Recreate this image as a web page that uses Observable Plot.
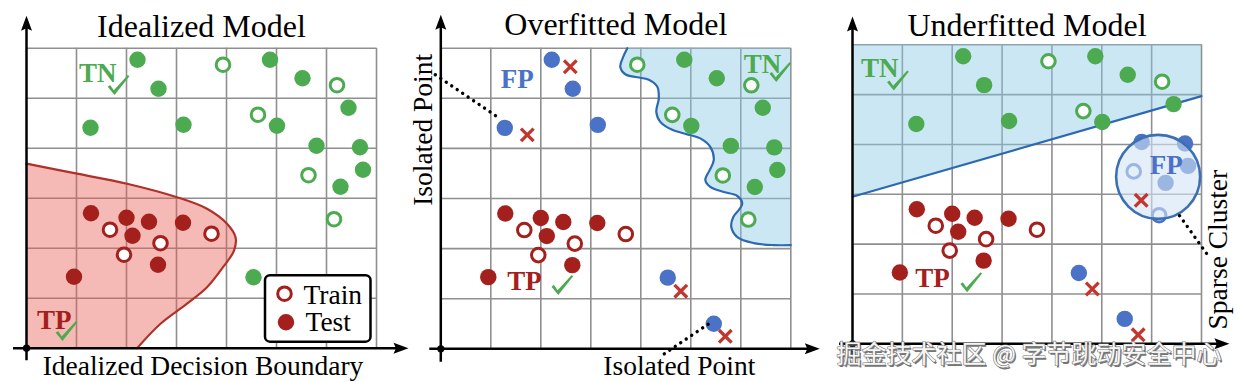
<!DOCTYPE html>
<html><head><meta charset="utf-8">
<script src="https://cdn.jsdelivr.net/npm/d3@7"></script>
<script src="https://cdn.jsdelivr.net/npm/@observablehq/plot@0.6"></script>
<style>
html,body{margin:0;padding:0;background:#fff;}
#chart{position:relative;width:1238px;height:382px;overflow:hidden;background:#fff;}
#chart svg{position:absolute;top:0;overflow:visible;}
</style></head><body><div id="chart"></div>
<script>
// ---------- data (grid units: 7 columns x 6 rows per panel) ----------
const ptX = [2.22,2.64,4.87,5.52,6.44,1.28,3.14,5.01,5.80,6.67,6.73,6.28,4.54,3.93,6.21,4.63,5.64,6.15,5.46,
             1.29,2.00,2.45,3.13,2.12,2.63,0.95,1.67,2.68,1.95,3.70];
const ptY = [5.77,5.19,5.77,5.40,4.81,4.41,4.47,4.45,4.05,4.02,3.57,3.23,1.42,5.67,5.26,4.67,3.46,2.58,0.50,
             2.70,2.61,2.53,2.51,2.25,1.67,1.43,2.37,2.10,1.87,2.29];
const ptSet = ["test","test","test","test","test","test","test","test","test","test","test","test","test",
               "train","train","train","train","train","test",
               "test","test","test","test","test","test","test","train","train","train","train"];
const classIdeal = ["TN","TN","TN","TN","TN","TN","TN","TN","TN","TN","TN","TN","TN","TN","TN","TN","TN","TN","none",
                    "TP","TP","TP","TP","TP","TP","TP","TP","TP","TP","TP"];
const classOver  = ["FP","FP","TN","TN","TN","FP","FP","TN","TN","TN","TN","TN","FP","TN","TN","TN","TN","TN","FP",
                    "TP","TP","TP","TP","TP","TP","TP","TP","TP","TP","TP"];
const classUnder = ["TN","TN","TN","TN","TN","TN","TN","TN","FP","FP","FP","FP","FP","TN","TN","TN","FP","FP","FP",
                    "TP","TP","TP","TP","TP","TP","TP","TP","TP","TP","TP"];

// misclassification crosses
const errPanel = ["over","over","over","over","under","under","under"];
const errX = [2.59,1.73,4.80,5.69,4.81,5.73,5.79];
const errY = [5.63,4.27,1.15,0.25,1.10,0.18,2.88];

// decision boundaries
const idealBX = [0,1.01,2.01,3.01,3.61,4.01,4.18,4.15,3.93,3.61,3.21,2.68,2.21];
const idealBY = [3.69,3.49,3.29,3.02,2.79,2.49,2.22,1.95,1.62,1.22,0.89,0.49,0.0];
const overBX = [3.73,3.65,3.59,3.69,3.93,4.16,4.33,4.36,4.31,4.39,4.63,4.93,5.19,5.39,5.46,5.38,5.29,5.39,5.66,5.93,6.03,5.96,5.85,5.81,5.93,6.26,6.66,7.0];
const overBY = [6.0,5.83,5.63,5.48,5.42,5.37,5.23,5.0,4.73,4.53,4.37,4.28,4.2,4.03,3.77,3.57,3.37,3.23,3.13,3.05,2.9,2.77,2.63,2.43,2.23,2.11,2.07,2.07];
const underBX = [0,7];
const underBY = [2.95,4.97];

// class tags
const tagPanel = ["ideal","ideal","over","over","over","under","under","under"];
const tagText  = ["TN","TP","FP","TN","TP","TN","TP","FP"];
const tagX = [1.05,0.21,1.20,6.06,1.33,0.17,1.26,5.96];
const tagY = [5.32,0.39,5.20,5.50,1.18,5.35,1.13,3.40];
// check marks
const checkPanel = ["ideal","ideal","over","over","under","under"];
const checkX = [1.84,0.80,6.79,2.43,0.91,2.38];
const checkY = [5.26,0.34,5.52,1.27,5.28,1.23];

// titles and captions
const titleText = ["Idealized Model","Overfitted Model","Underfitted Model"];
const titleY = [6.23,6.27,6.18];
const capPanel = ["ideal","over","over","under"];
const capText = ["Idealized Decision Boundary","Isolated Point","Isolated Point","Sparse Cluster"];
const capX = [3.53,4.77,-0.17,7.52];
const capY = [-0.53,-0.53,4.37,1.89];
const capRotate = [0,0,-90,-90];

// dotted leaders
const leadPanel = ["over","over","under"];
const leadX1 = [-0.11,4.47,6.56], leadY1 = [5.47,-0.10,2.57];
const leadX2 = [1.13,5.36,7.16], leadY2 = [4.63,0.50,1.73];

// sparse cluster circle
const clusterX = [6.13], clusterY = [3.35];

// legend
const legendText = ["Train","Test"];
const legendBoxX = [4.78,6.89], legendBoxY = [0.12,1.45];
const legendMarkX = [5.16,5.19], legendMarkY = [1.09,0.52];
const legendTextX = [5.54,5.58], legendTextY = [0.89,0.35];

const watermark = "掘金技术社区 @ 字节跳动安全中心";

// ---------- styles ----------
const GREEN = "#4caa50", RED = "#a3201d", BLUE = "#4a72c6", XRED = "#c3362d";
const classColor = {TN: GREEN, TP: RED, FP: BLUE};
const SERIF = "Liberation Serif, Times New Roman, serif";

const arrowHead = {draw(ctx) { ctx.moveTo(0,0); ctx.lineTo(-5.5,15); ctx.lineTo(0,12.5); ctx.lineTo(5.5,15); ctx.closePath(); }};
const checkShape = {draw(ctx) {
  ctx.moveTo(-10.8, 1.6); ctx.lineTo(-8.4, -0.3); ctx.lineTo(-4.7, 5.0);
  ctx.lineTo(9.4, -10.2); ctx.lineTo(10.9, -8.9); ctx.lineTo(-4.0, 9.8); ctx.closePath();
}};

const panels = [
  {key:"ideal", left:0,   width:413, ml:26,   mr:37,   mt:47.7, mb:34.3, classes:classIdeal, t:0, ax:[-0.26,7.64], ay:[-0.25,6.65]},
  {key:"over",  left:413, width:413, ml:27.3, mr:35.7, mt:47.7, mb:33.7, classes:classOver,  t:1, ax:[-0.22,7.58], ay:[-0.27,6.67]},
  {key:"under", left:826, width:412, ml:26,   mr:37,   mt:44.3, mb:38.7, classes:classUnder, t:2, ax:[-0.26,7.56], ay:[-0.30,6.57]}
];

function panelPlot(p) {
  const cls = p.classes;
  const shown = d3.range(ptX.length).filter(i => cls[i] !== "none");
  const sel = (panelArr) => d3.range(panelArr.length).filter(i => panelArr[i] === p.key);
  const marks = [];
  // grid
  marks.push(Plot.ruleX(d3.range(1, 8), {y1: 0, y2: 6, stroke: "#8f8f8f", strokeWidth: 1.6}));
  marks.push(Plot.ruleY(d3.range(1, 7), {x1: 0, x2: 7, stroke: "#8f8f8f", strokeWidth: 1.6}));
  // regions
  if (p.key === "ideal") {
    const I = d3.range(idealBX.length);
    marks.push(Plot.areaX(I, {x1: 0, x2: i => idealBX[i], y: i => idealBY[i], curve: "catmull-rom", fill: "#ea5a50", fillOpacity: 0.42}));
    marks.push(Plot.line(I, {x: i => idealBX[i], y: i => idealBY[i], curve: "catmull-rom", stroke: "#b0302a", strokeWidth: 2.2}));
  } else if (p.key === "over") {
    const I = d3.range(overBX.length);
    marks.push(Plot.areaX(I, {x1: i => overBX[i], x2: 7, y: i => overBY[i], curve: "catmull-rom", fill: "#8ecae6", fillOpacity: 0.45}));
    marks.push(Plot.line(I, {x: i => overBX[i], y: i => overBY[i], curve: "catmull-rom", stroke: "#2b69b0", strokeWidth: 2.2}));
  } else {
    const I = d3.range(underBX.length);
    marks.push(Plot.areaY(I, {x: i => underBX[i], y1: i => underBY[i], y2: 6, fill: "#8ecae6", fillOpacity: 0.45}));
    marks.push(Plot.line(I, {x: i => underBX[i], y: i => underBY[i], stroke: "#2b69b0", strokeWidth: 2.2}));
  }
  // axes
  marks.push(Plot.ruleY([0], {x1: p.ax[0], x2: p.ax[1] - 0.22, stroke: "black", strokeWidth: 2.5}));
  marks.push(Plot.ruleX([0], {y1: p.ay[0], y2: p.ay[1] - 0.22, stroke: "black", strokeWidth: 2.5}));
  marks.push(Plot.dot([0], {x: p.ax[1], y: 0, symbol: arrowHead, rotate: 90, fill: "black", stroke: null}));
  marks.push(Plot.dot([0], {x: 0, y: p.ay[1], symbol: arrowHead, rotate: 0, fill: "black", stroke: null}));
  marks.push(Plot.dot([0], {x: 0, y: 0, r: 3.6, fill: "black"}));
  // points
  marks.push(Plot.dot(shown.filter(i => ptSet[i] === "test"), {x: i => ptX[i], y: i => ptY[i], r: 8.2, fill: i => classColor[cls[i]]}));
  marks.push(Plot.dot(shown.filter(i => ptSet[i] === "train"), {x: i => ptX[i], y: i => ptY[i], r: 6.8, fill: "white", stroke: i => classColor[cls[i]], strokeWidth: 3}));
  // cluster circle
  if (p.key === "under") {
    marks.push(Plot.dot([0], {x: i => clusterX[i], y: i => clusterY[i], r: 42, fill: "#d3e4f5", fillOpacity: 0.6, stroke: "#3d6fb3", strokeWidth: 2.6}));
  }
  // errors
  marks.push(Plot.dot(sel(errPanel), {x: i => errX[i], y: i => errY[i], symbol: "times", r: 5.8, stroke: XRED, strokeWidth: 3.3}));
  // tags
  marks.push(Plot.text(sel(tagPanel), {x: i => tagX[i], y: i => tagY[i], text: i => tagText[i], fill: i => classColor[tagText[i]],
    fontFamily: SERIF, fontWeight: "bold", fontSize: 27, textAnchor: "start", lineAnchor: "bottom"}));
  marks.push(Plot.dot(sel(checkPanel), {x: i => checkX[i], y: i => checkY[i], symbol: checkShape, fill: GREEN, stroke: null}));
  // title
  marks.push(Plot.text([p.t], {x: 3.5, y: i => titleY[i], text: i => titleText[i], fontFamily: SERIF, fontSize: 32,
    fill: "black", textAnchor: "middle", lineAnchor: "bottom"}));
  // captions
  const caps = sel(capPanel);
  marks.push(Plot.text(caps.filter(i => capRotate[i] === 0), {x: i => capX[i], y: i => capY[i], text: i => capText[i],
    fontFamily: SERIF, fontSize: 27.5, fill: "black", textAnchor: "middle", lineAnchor: "bottom"}));
  marks.push(Plot.text(caps.filter(i => capRotate[i] !== 0), {x: i => capX[i], y: i => capY[i], text: i => capText[i], rotate: -90,
    fontFamily: SERIF, fontSize: 27.5, fill: "black", textAnchor: "middle", lineAnchor: "bottom"}));
  // leaders
  marks.push(Plot.link(sel(leadPanel), {x1: i => leadX1[i], y1: i => leadY1[i], x2: i => leadX2[i], y2: i => leadY2[i],
    stroke: "black", strokeWidth: 3.4, strokeDasharray: "0.01 6.6", strokeLinecap: "round"}));
  // legend
  if (p.key === "ideal") {
    marks.push(Plot.rect([0], {x1: legendBoxX[0], x2: legendBoxX[1], y1: legendBoxY[0], y2: legendBoxY[1], rx: 5,
      fill: "white", stroke: "black", strokeWidth: 2.5}));
    marks.push(Plot.dot([0], {x: i => legendMarkX[i], y: i => legendMarkY[i], r: 6.8, fill: "white", stroke: RED, strokeWidth: 3}));
    marks.push(Plot.dot([1], {x: i => legendMarkX[i], y: i => legendMarkY[i], r: 8.2, fill: RED}));
    marks.push(Plot.text([0, 1], {x: i => legendTextX[i], y: i => legendTextY[i], text: i => legendText[i], fontFamily: SERIF,
      fontSize: 27.5, fill: "black", textAnchor: "start", lineAnchor: "bottom"}));
  }
  // watermark
  if (p.key === "under") {
    marks.push(Plot.text([watermark], {x: 3.54, y: -0.39, text: d => d, fontFamily: "Noto Sans CJK SC", fontSize: 25,
      fill: "#555", dx: 1.5, dy: 1.5, textAnchor: "middle", lineAnchor: "bottom", opacity: 0.8}));
    marks.push(Plot.text([watermark], {x: 3.54, y: -0.39, text: d => d, fontFamily: "Noto Sans CJK SC", fontSize: 25,
      fill: "#f6f6f6", stroke: "#777", strokeWidth: 1.2, paintOrder: "stroke", textAnchor: "middle", lineAnchor: "bottom"}));
  }
  const svg = Plot.plot({
    width: p.width, height: 382,
    marginLeft: p.ml, marginRight: p.mr, marginTop: p.mt, marginBottom: p.mb,
    x: {domain: [0, 7], axis: null},
    y: {domain: [0, 6], axis: null},
    color: {type: "identity"},
    style: {overflow: "visible", maxWidth: "none", background: "transparent"},
    marks
  });
  svg.style.left = p.left + "px";
  return svg;
}

const chart = document.getElementById("chart");
for (const p of panels) chart.appendChild(panelPlot(p));
</script></body></html>
